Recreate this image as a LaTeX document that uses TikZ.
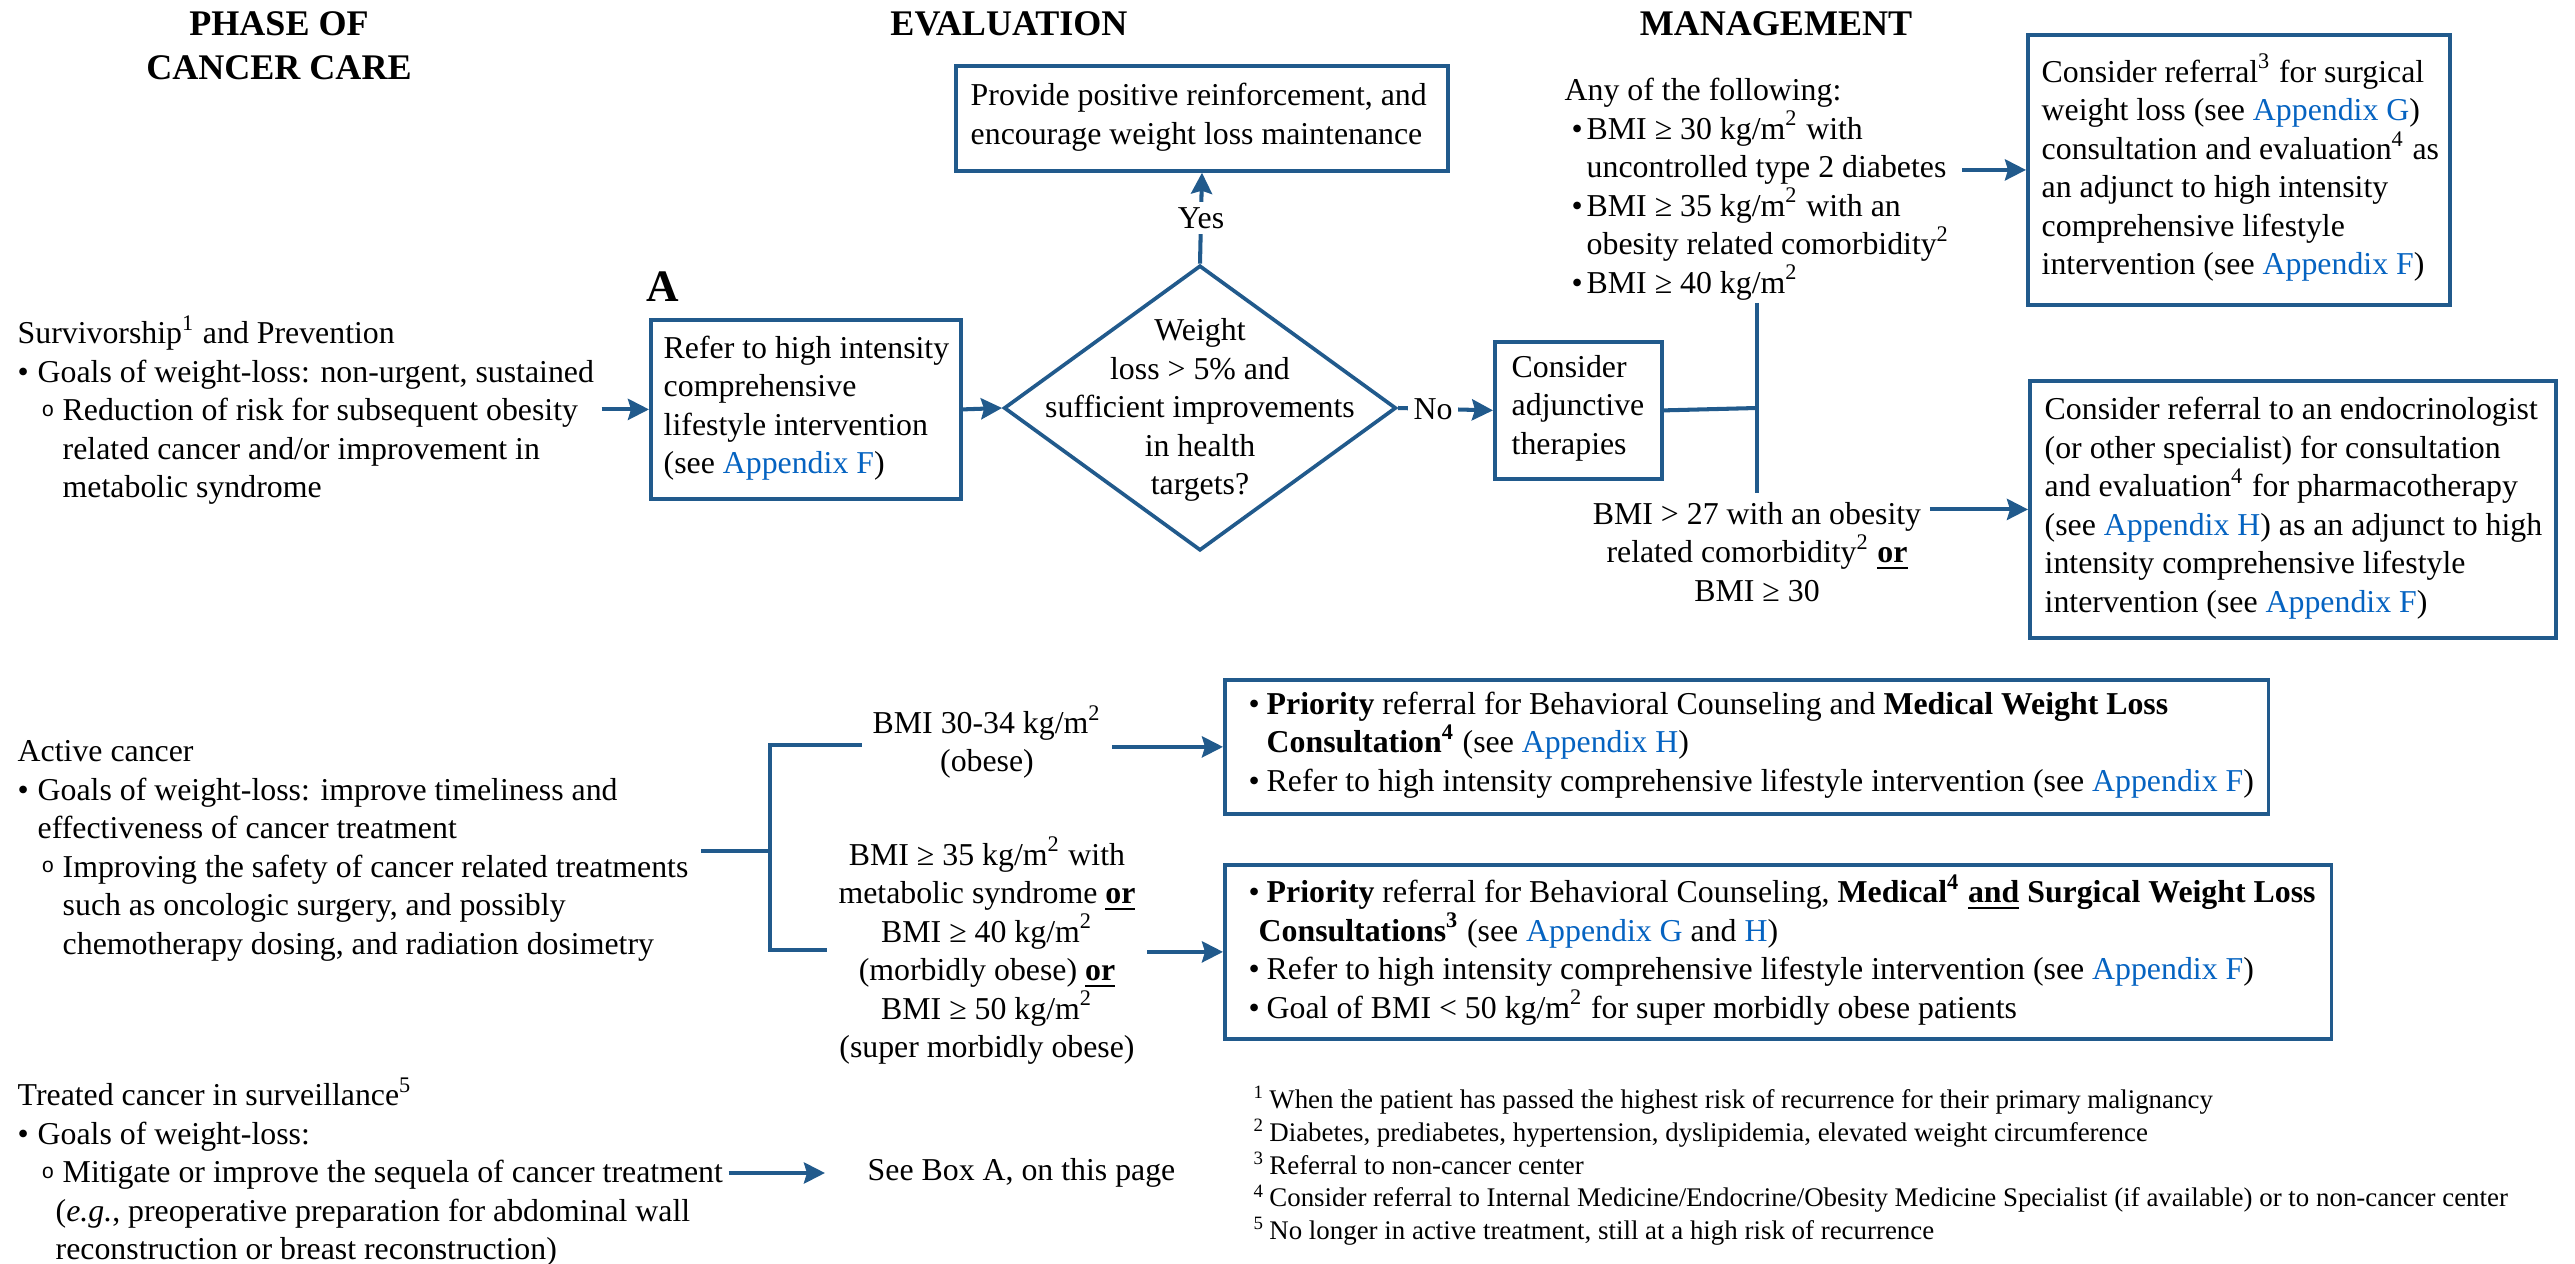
\documentclass[tikz,border=0pt]{standalone}
\usepackage{fontspec}
\setmainfont{Liberation Serif}
\newfontfamily\monof{Liberation Mono}
\usetikzlibrary{arrows.meta,shapes.geometric}
\definecolor{bl}{HTML}{215A8C}
\definecolor{linkb}{HTML}{0563C1}
\newcommand\mainf{\fontsize{9.05}{10.95}\selectfont}
\newcommand\applink[1]{\textcolor{linkb}{#1}}
\newcommand\mybul{\makebox[0.20cm][l]{\textbullet}}
\newcommand\mybind{\hspace*{0.20cm}}
\newcommand\mysbul{\hspace*{0.24cm}\makebox[0.21cm][l]{\raisebox{0.3ex}{\monof\fontsize{6}{6}\selectfont o}}}
\newcommand\mysind{\hspace*{0.45cm}}
\newcommand\mybulb{\hspace*{0.07cm}\makebox[0.15cm][l]{\textbullet}}
\newcommand\mybindb{\hspace*{0.22cm}}
\newcommand\mybulc{\makebox[0.18cm][l]{\textbullet}}
\tikzset{
  boxnode/.style={draw=bl, line width=1.05pt, anchor=north west, inner sep=0pt},
  txt/.style={font=\mainf, align=left, inner sep=0pt, anchor=west},
  ctxt/.style={font=\mainf, align=center, inner sep=0pt},
  hdr/.style={font=\bfseries\fontsize{10.25}{12.5}\selectfont, align=center, inner sep=0pt},
  arr/.style={draw=bl, line width=1.15pt, -{Stealth[length=0.21cm,width=0.21cm,inset=0.03cm]}},
  ln/.style={draw=bl, line width=1.15pt},
  lbl/.style={font=\mainf, fill=white, inner sep=1.5pt}
}
\begin{document}
\begin{tikzpicture}[x=0.01cm, y=-0.01cm]
\useasboundingbox (0,0) rectangle (2575,1264);

% headers
\node[hdr] (h1) at (279,46) {PHASE OF\\CANCER CARE};
\node[hdr] (h2) at (1009,24) {EVALUATION};
\node[hdr] (h3) at (1776,24) {MANAGEMENT};

% left texts
\node[txt] (surv) at (17,410) {Survivorship\textsuperscript{1} and Prevention\\
\mybul Goals of weight-loss: non-urgent, sustained\\
\mysbul Reduction of risk for subsequent obesity\\
\mysind related cancer and/or improvement in\\
\mysind metabolic syndrome};

\node[txt] (act) at (17,851) {Active cancer\\
\mybul Goals of weight-loss: improve timeliness and\\
\mybind effectiveness of cancer treatment\\
\mysbul Improving the safety of cancer related treatments\\
\mysind such as oncologic surgery, and possibly\\
\mysind chemotherapy dosing, and radiation dosimetry};

\node[txt] (surv2) at (17,1172) {Treated cancer in surveillance\textsuperscript{5}\\
\mybul Goals of weight-loss:\\
\mysbul Mitigate or improve the sequela of cancer treatment\\
\hspace*{0.38cm}(\textit{e.g.}, preoperative preparation for abdominal wall\\
\hspace*{0.38cm}reconstruction or breast reconstruction)};

% evaluation
\node[boxnode, minimum width=4.92cm, minimum height=1.05cm] (pos) at (954,64) {};
\node[txt] (posT) at (970,117) {Provide positive reinforcement, and\\encourage weight loss maintenance};

\node[font=\bfseries\fontsize{12.8}{14}\selectfont, inner sep=0pt] (labA) at (663,287) {A};
\node[boxnode, minimum width=3.10cm, minimum height=1.79cm] (boxA) at (649,318) {};
\node[txt] (boxAT) at (663,408) {Refer to high intensity\\comprehensive\\lifestyle intervention\\(see \applink{Appendix F})};

\node[diamond, draw=bl, line width=1.05pt, minimum width=3.92cm, minimum height=2.85cm, inner sep=0pt] (dec) at (1200,408) {};
\node[ctxt] (decT) at (1200,410) {Weight\\loss > 5\% and\\sufficient improvements\\in health\\targets?};

% management
\node[boxnode, minimum width=1.67cm, minimum height=1.37cm] (adj) at (1493,340) {};
\node[txt] (adjT) at (1511,408) {Consider\\adjunctive\\therapies};

\node[txt] (upp) at (1564,189) {Any of the following:\\
\mybulb BMI ≥ 30 kg/m\textsuperscript{2} with\\
\mybindb uncontrolled type 2 diabetes\\
\mybulb BMI ≥ 35 kg/m\textsuperscript{2} with an\\
\mybindb obesity related comorbidity\textsuperscript{2}\\
\mybulb BMI ≥ 40 kg/m\textsuperscript{2}};

\node[ctxt] (low) at (1757,552) {BMI > 27 with an obesity\\related comorbidity\textsuperscript{2} \textbf{\underline{or}}\\BMI ≥ 30};

\node[boxnode, minimum width=4.22cm, minimum height=2.70cm] (surg) at (2026,33) {};
\node[txt] (surgT) at (2041,168) {Consider referral\textsuperscript{3} for surgical\\
weight loss (see \applink{Appendix G})\\
consultation and evaluation\textsuperscript{4} as\\
an adjunct to high intensity\\
comprehensive lifestyle\\
intervention (see \applink{Appendix F})};

\node[boxnode, minimum width=5.26cm, minimum height=2.57cm] (endo) at (2028,379) {};
\node[txt] (endoT) at (2044,508) {Consider referral to an endocrinologist\\
(or other specialist) for consultation\\
and evaluation\textsuperscript{4} for pharmacotherapy\\
(see \applink{Appendix H}) as an adjunct to high\\
intensity comprehensive lifestyle\\
intervention (see \applink{Appendix F})};

% active cancer branch
\node[ctxt, inner xsep=0.1cm] (b1) at (987,742) {BMI 30-34 kg/m\textsuperscript{2}\\(obese)};
\node[ctxt, inner xsep=0.11cm] (b2) at (987,951) {BMI ≥ 35 kg/m\textsuperscript{2} with\\
metabolic syndrome \textbf{\underline{or}}\\
BMI ≥ 40 kg/m\textsuperscript{2}\\
(morbidly obese) \textbf{\underline{or}}\\
BMI ≥ 50 kg/m\textsuperscript{2}\\
(super morbidly obese)};

\node[boxnode, minimum width=10.43cm, minimum height=1.34cm] (box1) at (1223,678) {};
\node[txt] (box1T) at (1248,745) {\mybulc\textbf{Priority} referral for Behavioral Counseling and \textbf{Medical Weight Loss}\\
\hspace*{0.18cm}\textbf{Consultation}\textsuperscript{\textbf{4}} (see \applink{Appendix H})\\
\mybulc Refer to high intensity comprehensive lifestyle intervention (see \applink{Appendix F})};

\node[boxnode, minimum width=11.06cm, minimum height=1.74cm] (box2) at (1223,863) {};
\node[txt] (box2T) at (1248,950) {\mybulc\textbf{Priority} referral for Behavioral Counseling, \textbf{Medical}\textsuperscript{\textbf{4}} \textbf{\underline{and}} \textbf{Surgical Weight Loss}\\
\hspace*{0.10cm}\textbf{Consultations}\textsuperscript{\textbf{3}} (see \applink{Appendix G} and \applink{H})\\
\mybulc Refer to high intensity comprehensive lifestyle intervention (see \applink{Appendix F})\\
\mybulc Goal of BMI < 50 kg/m\textsuperscript{2} for super morbidly obese patients};

\node[txt] (seeA) at (867,1173) {See Box A, on this page};

% footnotes
\node[txt, font=\fontsize{7.65}{9.3}\selectfont] (fn) at (1253,1166) {\textsuperscript{1}\,When the patient has passed the highest risk of recurrence for their primary malignancy\\
\textsuperscript{2}\,Diabetes, prediabetes, hypertension, dyslipidemia, elevated weight circumference\\
\textsuperscript{3}\,Referral to non-cancer center\\
\textsuperscript{4}\,Consider referral to Internal Medicine/Endocrine/Obesity Medicine Specialist (if available) or to non-cancer center\\
\textsuperscript{5}\,No longer in active treatment, still at a high risk of recurrence};

% coordinates
\coordinate (jm) at (1757,408);
\coordinate (jt) at (1757,303);
\coordinate (jb) at (1757,493);
\coordinate (bm) at (770,851);
\coordinate (bt) at (770,745);
\coordinate (bb) at (770,950);

% connectors
\draw[arr] ([xshift=0.07cm]surv.east |- boxA.west) -- (boxA.west);
\draw[arr] (boxA.east) -- (dec.west);
\draw[arr] (dec.north) -- node[lbl]{Yes} (pos.south);
\draw[arr] (dec.east) -- node[lbl, pos=0.37]{No} (adj.west);
\draw[ln] (adj.east) -- (jm);
\draw[ln] (jt) -- (jb);
\draw[arr] ([xshift=0.12cm]upp.east |- surg.west) -- (surg.west);
\draw[arr] ([xshift=0.08cm]low.east |- endo.west) -- (endo.west);

\draw[ln] ([xshift=0.12cm]act.east |- bm) -- (bm);
\draw[ln] (b1.west |- bt) -- (bt) -- (bb) -- (b2.west |- bb);
\draw[arr] (b1.east |- box1.west) -- (box1.west);
\draw[arr] (b2.east |- box2.west) -- (box2.west);
\draw[arr] ([xshift=0.05cm]surv2.east |- seeA.west) -- ([xshift=-0.42cm]seeA.west);
\end{tikzpicture}
\end{document}
